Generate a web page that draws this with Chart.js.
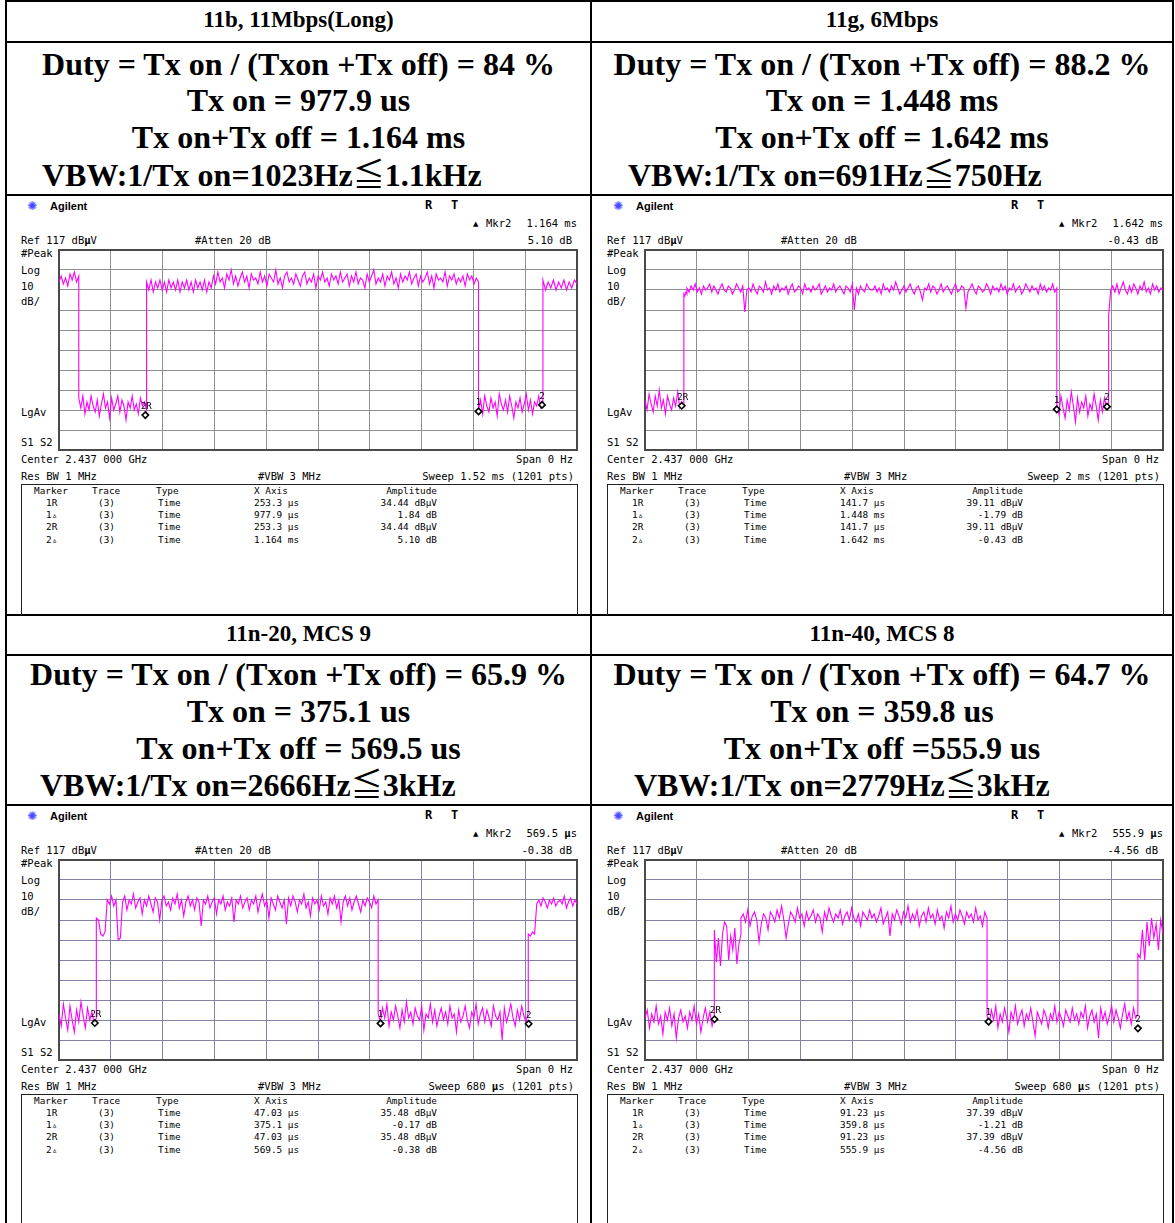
<!DOCTYPE html>
<html><head><meta charset="utf-8">
<script src="https://cdn.jsdelivr.net/npm/chart.js@4"></script>
<style>
html,body{margin:0;padding:0;}
body{width:1175px;height:1223px;overflow:hidden;background:#fff;position:relative;}
.ln{position:absolute;background:#000;}
.hd{position:absolute;font-family:"Liberation Serif","Times New Roman",serif;font-weight:bold;color:#000;white-space:pre;text-align:center;}
.cjk{font-family:"Noto Sans CJK JP","Noto Sans CJK SC",sans-serif;font-weight:normal;}
.t{position:absolute;font-family:"DejaVu Sans Mono",monospace;font-size:10.5px;line-height:12px;height:12px;white-space:pre;color:#000;}
.box{position:absolute;border:1px solid #222;border-bottom:none;}
.cv{position:absolute;}
</style></head>
<body>
<script>
// ---------------- DATA ----------------
const panelTitles = ['11b, 11Mbps(Long)', '11g, 6Mbps', '11n-20, MCS 9', '11n-40, MCS 8'];
const dutyLines = ['Duty = Tx on / (Txon +Tx off) = 84 %', 'Duty = Tx on / (Txon +Tx off) = 88.2 %', 'Duty = Tx on / (Txon +Tx off) = 65.9 %', 'Duty = Tx on / (Txon +Tx off) = 64.7 %'];
const txOnLines = ['Tx on = 977.9 us', 'Tx on = 1.448 ms', 'Tx on = 375.1 us', 'Tx on = 359.8 us'];
const periodLines = ['Tx on+Tx off = 1.164 ms', 'Tx on+Tx off = 1.642 ms', 'Tx on+Tx off = 569.5 us', 'Tx on+Tx off =555.9 us'];
const vbwLines = ['VBW:1/Tx on=1023Hz', 'VBW:1/Tx on=691Hz', 'VBW:1/Tx on=2666Hz', 'VBW:1/Tx on=2779Hz'];
const vbwLimits = ['1.1kHz', '750Hz', '3kHz', '3kHz'];

const sweepUs = [1520, 2000, 680, 680];
const sweepLabels = ['Sweep 1.52 ms (1201 pts)', 'Sweep 2 ms (1201 pts)', 'Sweep 680 <b>µ</b>s (1201 pts)', 'Sweep 680 <b>µ</b>s (1201 pts)'];
const mkr2X = ['1.164 ms', '1.642 ms', '569.5 <b>µ</b>s', '555.9 <b>µ</b>s'];
const mkr2Db = ['5.10 dB', '-0.43 dB', '-0.38 dB', '-4.56 dB'];

const tableMarkers = ['1R', '1▵', '2R', '2▵'];
const tableX = [
  ['253.3 µs', '977.9 µs', '253.3 µs', '1.164 ms'],
  ['141.7 µs', '1.448 ms', '141.7 µs', '1.642 ms'],
  ['47.03 µs', '375.1 µs', '47.03 µs', '569.5 µs'],
  ['91.23 µs', '359.8 µs', '91.23 µs', '555.9 µs']
];
const tableAmp = [
  ['34.44 dBµV', '1.84 dB', '34.44 dBµV', '5.10 dB'],
  ['39.11 dBµV', '-1.79 dB', '39.11 dBµV', '-0.43 dB'],
  ['35.48 dBµV', '-0.17 dB', '35.48 dBµV', '-0.38 dB'],
  ['37.39 dBµV', '-1.21 dB', '37.39 dBµV', '-4.56 dB']
];

// marker positions (time us, level dBuV)
const markerT = [[253.3, 1231.2, 1417.3], [141.7, 1589.7, 1783.7], [47.03, 422.1, 616.5], [91.23, 451.0, 647.1]];
const markerDb = [[34.44, 36.28, 39.54], [39.11, 37.32, 38.68], [35.48, 35.31, 35.10], [37.39, 36.18, 32.83]];
const markerLabels = ['2R', '1', '2'];

// trace segment boundaries (us) and readings (dBuV)
const A_edges = [0, 58, 257, 1231, 1420, 1520];
const A_s0 = [101, 104, 100, 103, 99, 105, 102, 106, 101, 104];
const A_s1 = [43, 38, 44, 35, 41, 37, 44, 39, 36, 42, 34, 40, 45, 38, 41, 33, 43, 37, 40, 44, 36, 42, 39, 32, 41, 38, 44, 37, 40, 35, 43, 39, 41, 37];
const A_s2 = [101, 97, 102, 96, 101, 98, 102, 97, 101, 96, 102, 98, 101, 97, 102, 96, 101, 98, 102, 97, 101, 96, 102, 98, 101, 97, 102, 96, 101, 98,
  104, 100, 106, 101, 103, 98, 105, 102, 107, 100, 104, 99, 103, 106, 101, 104, 98, 105, 102, 103, 100, 106, 101, 104, 99, 105, 103, 101, 107, 100,
  103, 98, 104, 106, 101, 103, 100, 105, 102, 99, 104, 106, 100, 103, 101, 105, 98, 104, 102, 106, 101, 103, 99, 105, 102, 104, 100, 106, 101, 103,
  105, 99, 104, 101, 106, 100, 103, 102, 98, 105, 101, 104, 107, 100, 103, 101, 105, 99, 104, 102, 106, 100, 103, 98, 105, 101, 104, 102, 106, 100,
  103, 105, 99, 104, 101, 103, 106, 100, 104, 98, 105, 102, 103, 101, 106, 99, 104, 102, 105, 100, 103, 101, 104, 99, 105, 102, 104, 100, 103, 101];
const A_s3 = [37, 42, 35, 44, 39, 36, 43, 38, 41, 34, 45, 40, 37, 42, 36, 44, 39, 33, 41, 38, 43, 36, 40, 45, 37, 42, 35, 41, 39, 44, 38, 40];
const A_s4 = [102, 97, 101, 98, 102, 97, 101, 98, 102, 97, 101, 98, 102, 100];

const B_edges = [0, 150, 162, 1590, 1790, 2000];
const B_s0 = [42, 37, 45, 40, 36, 44, 39, 47, 38, 42, 35, 44, 40, 37, 43, 39, 46, 38, 41, 39];
const B_s1 = [95, 94, 96, 95];
const B_s2 = [98, 96, 99, 97, 100, 96, 98, 95, 99, 97, 98, 100, 96, 99, 97, 95, 98, 100, 97, 96, 99, 98, 95, 97, 100, 98, 96, 99, 86, 97,
  98, 96, 100, 97, 95, 99, 98, 96, 101, 97, 98, 95, 99, 97, 100, 96, 98, 97, 99, 95, 98, 100, 96, 97, 99, 98, 95, 100, 97, 98,
  96, 99, 97, 98, 100, 95, 97, 99, 96, 98, 97, 100, 96, 98, 99, 97, 95, 99, 98, 96, 100, 87, 98, 95, 99, 97, 96, 100, 98, 97,
  97, 99, 96, 98, 95, 100, 97, 98, 96, 99, 97, 101, 98, 95, 97, 99, 96, 98, 100, 97, 95, 98, 99, 96, 92, 98, 97, 100, 96, 99,
  98, 95, 97, 100, 96, 98, 99, 97, 95, 98, 100, 96, 97, 99, 98, 88, 96, 98, 100, 97, 95, 99, 98, 96, 97, 100, 98, 95, 99, 97,
  98, 96, 100, 97, 99, 95, 98, 97, 100, 96, 98, 99, 95, 97, 100, 98, 96, 99, 97, 98, 95, 100, 97, 99, 96, 98, 97, 100, 96, 98];
const B_s3 = [40, 35, 44, 38, 33, 42, 37, 46, 39, 31, 43, 36, 41, 38, 44, 34, 40, 37, 45, 39, 32, 42, 36, 43, 38, 40];
const B_s4 = [84, 97, 99, 96, 100, 95, 98, 101, 97, 95, 99, 96, 100, 98, 95, 99, 97, 101, 96, 98, 95, 100, 97, 99, 96, 98, 97];

const C_edges = [0, 49, 419, 616, 680];
const C_s0 = [40, 34, 45, 38, 32, 44, 37, 31, 42, 36, 46, 39, 33, 43, 37, 41, 35, 38];
const C_s1 = [88, 87, 80, 79, 81, 97, 95, 99, 94, 97, 77, 78, 96, 99, 92, 97, 95, 100, 93, 96,
  98, 90, 97, 94, 99, 95, 91, 98, 96, 87, 97, 99, 94, 96, 92, 98, 95, 100, 93, 97,
  89, 96, 99, 94, 97, 92, 98, 96, 84, 97, 95, 99, 93, 96, 98, 90, 97, 95, 99, 92,
  96, 94, 98, 86, 97, 95, 99, 93, 96, 98, 92, 97, 95, 99, 91, 96, 100, 94, 97, 88,
  98, 95, 92, 99, 96, 93, 97, 85, 98, 94, 99, 96, 91, 97, 95, 100, 93, 96, 89, 98,
  95, 97, 92, 99, 94, 96, 90, 98, 95, 99, 93, 97, 86, 96, 99, 94, 98, 92, 96, 99,
  95, 91, 97, 94, 98, 96, 93, 99, 95, 97];
const C_s2 = [40, 36, 43, 38, 45, 34, 41, 37, 44, 39, 33, 42, 36, 46, 38, 41, 35, 43, 39, 37,
  44, 32, 40, 38, 45, 36, 42, 34, 39, 43, 37, 41, 35, 44, 38, 40, 31, 42, 36, 39,
  44, 37, 33, 41, 38, 45, 35, 40, 43, 36, 42, 38, 34, 44, 39, 37, 41, 27, 43, 36,
  40, 45, 38, 34, 42, 37, 44, 39, 36, 41];
const C_s3 = [80, 79, 81, 80, 95, 97, 94, 98, 96, 93, 97, 95, 98, 94, 96, 97, 95, 99, 93, 96, 98, 94, 97, 95];

const D_edges = [0, 91, 126, 449, 647, 680];
const D_s0 = [38, 42, 33, 40, 36, 44, 35, 39, 30, 41, 37, 43, 34, 40, 28, 38, 42, 36, 39, 33, 41, 37, 44, 35, 40, 31, 38, 43, 36, 41, 34, 39];
const D_s1 = [82, 66, 78, 64, 80, 86, 84, 67, 79, 72, 83, 65, 75, 80];
const D_s2 = [88, 90, 86, 92, 84, 89, 91, 87, 76, 85, 90, 88, 82, 91, 89, 86, 92, 88, 94, 87,
  78, 85, 91, 89, 86, 93, 88, 90, 84, 91, 87, 89, 92, 86, 90, 88, 81, 91, 87, 93,
  89, 86, 90, 88, 92, 85, 89, 91, 87, 93, 88, 86, 90, 84, 91, 89, 87, 92, 88, 90,
  86, 89, 93, 85, 88, 91, 79, 90, 87, 92, 89, 85, 91, 88, 94, 86, 90, 87, 92, 84,
  89, 91, 86, 93, 88, 90, 85, 92, 87, 89, 83, 91, 88, 94, 86, 90, 87, 92, 89, 85,
  91, 88, 90, 86, 93, 87, 89, 84, 91, 88];
const D_s3 = [39, 35, 42, 37, 44, 33, 40, 36, 43, 38, 31, 41, 37, 44, 35, 39, 42, 34, 40, 37,
  43, 36, 29, 41, 38, 35, 42, 39, 33, 40, 37, 44, 36, 41, 38, 34, 42, 39, 36, 43,
  37, 40, 35, 41, 38, 44, 33, 39, 42, 36, 40, 28, 43, 37, 41, 35, 39, 44, 36, 42,
  38, 33, 40, 45, 37, 41, 35, 43, 38, 40];
const D_s4 = [70, 68, 82, 67, 86, 74, 88, 78, 85, 72, 87, 80];

const traceEdges = [A_edges, B_edges, C_edges, D_edges];
const traceSegs = [[A_s0, A_s1, A_s2, A_s3, A_s4], [B_s0, B_s1, B_s2, B_s3, B_s4], [C_s0, C_s1, C_s2, C_s3], [D_s0, D_s1, D_s2, D_s3, D_s4]];

const refLevel = 117, bottomLevel = 17;

// ---------------- LAYOUT ----------------
function el(cls, css, html) {
  const d = document.createElement('div');
  d.className = cls;
  Object.assign(d.style, css);
  if (html !== undefined) d.innerHTML = html;
  document.body.appendChild(d);
  return d;
}
[[5, 0, 2, 1223], [590, 0, 2, 1223], [1172, 0, 2, 1223]].forEach(([x, y, w, h]) => el('ln', {left: x + 'px', top: y + 'px', width: w + 'px', height: h + 'px'}));
[0, 41, 194, 614, 654, 804].forEach(y => el('ln', {left: '5px', top: y + 'px', width: '1169px', height: '2px'}));

const cols = [{l: 7, w: 583}, {l: 592, w: 580}];
const headerY = [[20, 64, 100, 137, 172], [634, 674, 711, 748, 782]];
const vbwLeft = [42, 628, 40, 634];
for (let p = 0; p < 4; p++) {
  const c = cols[p % 2], hy = headerY[Math.floor(p / 2)];
  el('hd', {left: c.l + 'px', width: c.w + 'px', top: (hy[0] - 14) + 'px', fontSize: '23px', lineHeight: '28px'}, panelTitles[p]);
  el('hd', {left: c.l + 'px', width: c.w + 'px', top: (hy[1] - 18) + 'px', fontSize: '32px', lineHeight: '36px'}, dutyLines[p]);
  el('hd', {left: c.l + 'px', width: c.w + 'px', top: (hy[2] - 18) + 'px', fontSize: '32px', lineHeight: '36px'}, txOnLines[p]);
  el('hd', {left: c.l + 'px', width: c.w + 'px', top: (hy[3] - 18) + 'px', fontSize: '32px', lineHeight: '36px'}, periodLines[p]);
  el('hd', {left: vbwLeft[p] + 'px', top: (hy[4] - 18) + 'px', fontSize: '32px', lineHeight: '36px', textAlign: 'left'}, vbwLines[p] + '<span class="cjk">≦</span>' + vbwLimits[p]);
}

const offs = [[0, 0], [586, 0], [0, 610], [586, 610]];
function txt(p, x, y, s, extra) {
  const [ox, oy] = offs[p];
  const css = Object.assign({left: (x + ox) + 'px', top: (y + oy - 6) + 'px'}, extra || {});
  return el('t', css, s);
}
function txtR(p, xr, y, s, extra) {
  const [ox, oy] = offs[p];
  const css = Object.assign({right: (1175 - xr - ox) + 'px', top: (y + oy - 6) + 'px', textAlign: 'right'}, extra || {});
  return el('t', css, s);
}

for (let p = 0; p < 4; p++) {
  const [ox, oy] = offs[p];
  txt(p, 27, 206, '✺', {color: '#4b4bff', fontFamily: 'DejaVu Sans', fontSize: '12px'});
  txt(p, 50, 206, 'Agilent', {fontFamily: 'Liberation Sans', fontWeight: 'bold', fontSize: '11px'});
  txt(p, 425, 205, 'R', {fontWeight: 'bold', fontSize: '12px'});
  txt(p, 451, 205, 'T', {fontWeight: 'bold', fontSize: '12px'});
  txt(p, 473, 224, '▲', {fontSize: '7px', fontFamily: 'DejaVu Sans'});
  txt(p, 486, 223, 'Mkr2');
  txtR(p, 577, 223, mkr2X[p]);
  txtR(p, 572, 240, mkr2Db[p]);
  txt(p, 21, 240, 'Ref 117 dB<b>µ</b>V');
  txt(p, 195, 240, '#Atten 20 dB');
  txt(p, 21, 253, '#Peak');
  txt(p, 21, 270, 'Log');
  txt(p, 21, 286, '10');
  txt(p, 21, 301, 'dB/');
  txt(p, 21, 412, 'LgAv');
  txt(p, 21, 442, 'S1 S2');
  txt(p, 21, 459, 'Center 2.437 000 GHz');
  txtR(p, 573, 459, 'Span 0 Hz');
  txt(p, 21, 476, 'Res BW 1 MHz');
  txt(p, 258, 476, '#VBW 3 MHz');
  txtR(p, 574, 476, sweepLabels[p]);
  el('box', {left: (21 + ox) + 'px', top: (484 + oy) + 'px', width: '555px', height: '130px'});
  txt(p, 34, 491, 'Marker', {fontSize: '9.4px'});
  txt(p, 92, 491, 'Trace', {fontSize: '9.4px'});
  txt(p, 156, 491, 'Type', {fontSize: '9.4px'});
  txt(p, 254, 491, 'X Axis', {fontSize: '9.4px'});
  txtR(p, 437, 491, 'Amplitude', {fontSize: '9.4px'});
  for (let r = 0; r < 4; r++) {
    const y = 503 + r * 12.2;
    txt(p, 46, y, tableMarkers[r], {fontSize: '9.4px'});
    txt(p, 98, y, '(3)', {fontSize: '9.4px'});
    txt(p, 158, y, 'Time', {fontSize: '9.4px'});
    txt(p, 254, y, tableX[p][r], {fontSize: '9.4px'});
    txtR(p, 437, y, tableAmp[p][r], {fontSize: '9.4px'});
  }
}

// ---------------- CHARTS ----------------
function buildTrace(edges, segs) {
  const pts = [];
  segs.forEach((vals, k) => {
    const t0 = edges[k], t1 = edges[k + 1], n = vals.length;
    vals.forEach((v, i) => pts.push({x: t0 + (t1 - t0) * i / (n - 1), y: v}));
  });
  return pts;
}

const overlay = {
  id: 'overlay',
  beforeDatasetsDraw(chart) {
    const {ctx, chartArea: a} = chart;
    ctx.save();
    ctx.strokeStyle = '#4a4a4a';
    ctx.lineWidth = 2;
    ctx.strokeRect(a.left, a.top, a.right - a.left, a.bottom - a.top);
    ctx.restore();
  },
  afterDatasetsDraw(chart) {
    const {ctx} = chart;
    const meta = chart.getDatasetMeta(0);
    ctx.save();
    ctx.fillStyle = '#000';
    ctx.font = '9px "DejaVu Sans Mono"';
    ctx.textAlign = 'center';
    ctx.textBaseline = 'bottom';
    meta.data.forEach((pt, i) => {
      ctx.fillText(markerLabels[i], pt.x + (i === 0 ? 1 : 0), pt.y - 4);
    });
    ctx.restore();
  }
};

const P = 6;
for (let p = 0; p < 4; p++) {
  const [ox, oy] = offs[p];
  const wrap = el('cv', {left: (59 + ox - P) + 'px', top: (250 + oy - P) + 'px', width: (518 + 2 * P) + 'px', height: (200 + 2 * P) + 'px'});
  const cv = document.createElement('canvas');
  cv.width = 518 + 2 * P; cv.height = 200 + 2 * P;
  wrap.appendChild(cv);
  const gridColor = p < 2 ? '#8e8e8e' : '#8282a4';
  const mk = markerT[p].map((t, i) => ({x: t, y: markerDb[p][i]}));
  new Chart(cv, {
    type: 'line',
    data: {datasets: [
      {data: mk, showLine: false, pointStyle: 'rectRot', pointRadius: 3.2, pointBackgroundColor: '#fff', pointBorderColor: '#000', pointBorderWidth: 1.6, order: 0},
      {data: buildTrace(traceEdges[p], traceSegs[p]), borderColor: '#ff00ff', borderWidth: 1.1, pointRadius: 0, tension: 0, order: 1}
    ]},
    options: {
      responsive: false, animation: false, events: [],
      layout: {padding: P},
      plugins: {legend: {display: false}, tooltip: {enabled: false}},
      scales: {
        x: {type: 'linear', min: 0, max: sweepUs[p], ticks: {display: false, stepSize: sweepUs[p] / 10}, grid: {color: gridColor, drawTicks: false}, border: {display: false}},
        y: {type: 'linear', min: bottomLevel, max: refLevel, ticks: {display: false, stepSize: 10}, grid: {color: gridColor, drawTicks: false}, border: {display: false}}
      }
    },
    plugins: [overlay]
  });
}
</script>
</body></html>
